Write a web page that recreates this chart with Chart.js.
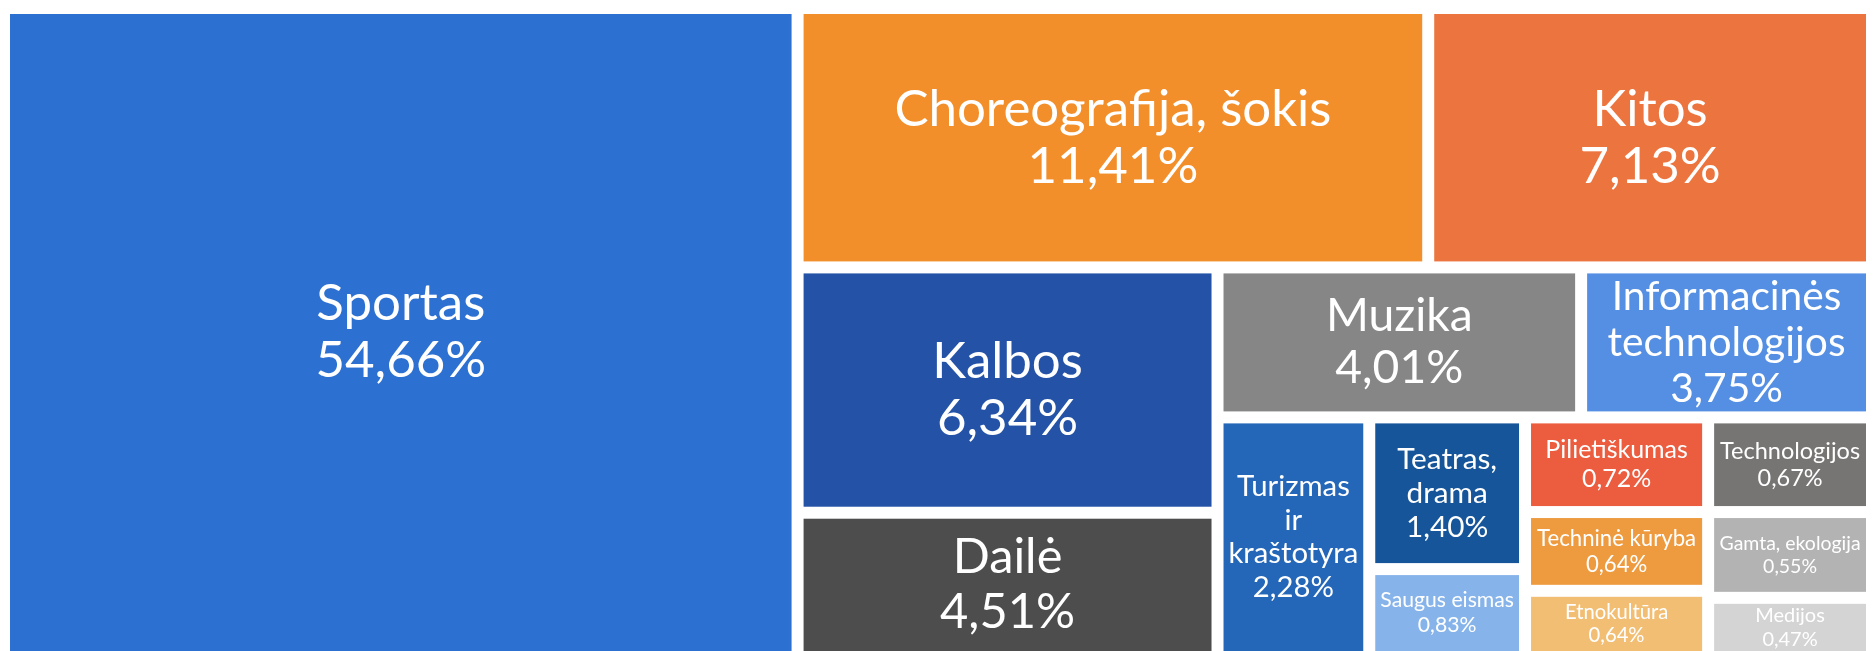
<!DOCTYPE html>
<html>
<head>
<meta charset="utf-8">
<script src="https://cdn.jsdelivr.net/npm/chart.js@4.4.1/dist/chart.umd.min.js"></script>
<style>
  html, body { margin: 0; padding: 0; background: #ffffff; overflow: hidden; }
  #wrap { position: relative; width: 1875px; height: 660px; }
</style>
</head>
<body>
<div id="wrap"><canvas id="treemap" width="1875" height="660"></canvas></div>
<script>
// tile labels ("\n" = line break as on the chart)
const categories = [
  'Sportas', 'Choreografija, šokis', 'Kitos', 'Kalbos', 'Dailė', 'Muzika',
  'Informacinės\ntechnologijos', 'Turizmas\nir\nkraštotyra', 'Teatras,\ndrama',
  'Saugus eismas', 'Pilietiškumas', 'Techninė kūryba', 'Etnokultūra',
  'Technologijos', 'Gamta, ekologija', 'Medijos'
];
// percentages printed on the tiles
const shares = [54.66, 11.41, 7.13, 6.34, 4.51, 4.01, 3.75, 2.28, 1.40, 0.83, 0.72, 0.64, 0.64, 0.67, 0.55, 0.47];
// tiles are sized by a measure that is not printed; estimated from the tile areas (% of total)
const tileSizes = [42.5, 13.5, 9.5, 8.5, 5.0, 4.5, 3.6, 3.0, 1.95, 1.13, 1.43, 1.19, 1.0, 1.28, 1.16, 0.8];
// how the tiles are grouped into strips, and the strip direction
const strips = [[0], [1, 2], [3, 4], [5, 6], [7], [8, 9], [10, 11, 12], [13, 14, 15]];
const stripDirections = ['col', 'row', 'col', 'row', 'col', 'col', 'col', 'col'];
const colors = [
  '#2c70d1', '#f28f2b', '#ec743f', '#2352a7', '#4d4d4d', '#868686',
  '#548fe3', '#2466b8', '#16559a', '#86b4ea', '#ec5c3f', '#ee9a3e',
  '#f2be74', '#767574', '#b3b3b3', '#d4d4d4'
];

// slice the 0..100 x 0..100 box into strips, areas proportional to tileSizes
function layoutTiles() {
  const tiles = [];
  let x0 = 0, y0 = 0;
  const x1 = 100, y1 = 100;
  let remaining = tileSizes.reduce((a, b) => a + b, 0);
  strips.forEach((strip, s) => {
    const sum = strip.reduce((a, i) => a + tileSizes[i], 0);
    const frac = sum / remaining;
    if (stripDirections[s] === 'col') {
      const xe = x0 + (x1 - x0) * frac;
      let y = y0;
      strip.forEach(i => {
        const h = (y1 - y0) * tileSizes[i] / sum;
        tiles[i] = { x0: x0, x1: xe, y0: y, y1: y + h };
        y += h;
      });
      x0 = xe;
    } else {
      const ye = y0 + (y1 - y0) * frac;
      let x = x0;
      strip.forEach(i => {
        const w = (x1 - x0) * tileSizes[i] / sum;
        tiles[i] = { x0: x, x1: x + w, y0: y0, y1: ye };
        x += w;
      });
      y0 = ye;
    }
    remaining -= sum;
  });
  return tiles;
}

const tiles = layoutTiles();
const FONT = 'Lato, "Open Sans", sans-serif';
const MAX_FONT = 51;

function lineHeight(size) {
  return size * 1.08 + 2;
}

function fitSize(ctx, lines, w, h) {
  const n = lines.length;
  let size = Math.min(MAX_FONT, 0.21 * Math.sqrt(w * h), (h - 2 * n) / (n * 1.08));
  size = Math.max(size, 20);
  ctx.font = '100px ' + FONT;
  const widest = Math.max(...lines.map(l => ctx.measureText(l).width)) / 100;
  return Math.min(size, 0.93 * w / widest);
}

const treemapPlugin = {
  id: 'treemapTiles',
  beforeDatasetsDraw(chart) {
    const ctx = chart.ctx;
    const xs = chart.scales.x, ys = chart.scales.y;
    const gap = 6;
    ctx.save();
    tiles.forEach((t, i) => {
      const left = xs.getPixelForValue(t.x0) + gap;
      const right = xs.getPixelForValue(t.x1) - gap;
      const top = ys.getPixelForValue(t.y0) + gap;
      const bottom = ys.getPixelForValue(t.y1) - gap;
      ctx.fillStyle = colors[i];
      ctx.fillRect(left, top, right - left, bottom - top);

      const lines = categories[i].split('\n');
      lines.push(shares[i].toFixed(2).replace('.', ',') + '%');
      const w = right - left, h = bottom - top;
      const size = fitSize(ctx, lines, w, h);
      const lineH = lineHeight(size);
      ctx.font = size + 'px ' + FONT;
      ctx.fillStyle = '#ffffff';
      ctx.textAlign = 'center';
      ctx.textBaseline = 'middle';
      const cx = (left + right) / 2;
      let cy = (top + bottom) / 2 - (lines.length - 1) * lineH / 2;
      lines.forEach(line => {
        ctx.fillText(line, cx, cy);
        cy += lineH;
      });
    });
    ctx.restore();
  }
};

function draw() {
  new Chart(document.getElementById('treemap'), {
    type: 'scatter',
    data: {
      datasets: [{
        label: 'Dalis',
        data: tiles.map((t, i) => ({ x: (t.x0 + t.x1) / 2, y: (t.y0 + t.y1) / 2, v: shares[i] })),
        pointRadius: 0,
        pointHoverRadius: 0
      }]
    },
    options: {
      responsive: false,
      animation: false,
      devicePixelRatio: 1,
      layout: { padding: { left: 4, right: 3, top: 8, bottom: 3 } },
      scales: {
        x: { type: 'linear', min: 0, max: 100, display: false },
        y: { type: 'linear', min: 0, max: 100, reverse: true, display: false }
      },
      plugins: {
        legend: { display: false },
        tooltip: { enabled: false }
      }
    },
    plugins: [treemapPlugin]
  });
}

if (document.fonts && document.fonts.load) {
  document.fonts.load('46px Lato').then(draw, draw);
} else {
  draw();
}
</script>
</body>
</html>
